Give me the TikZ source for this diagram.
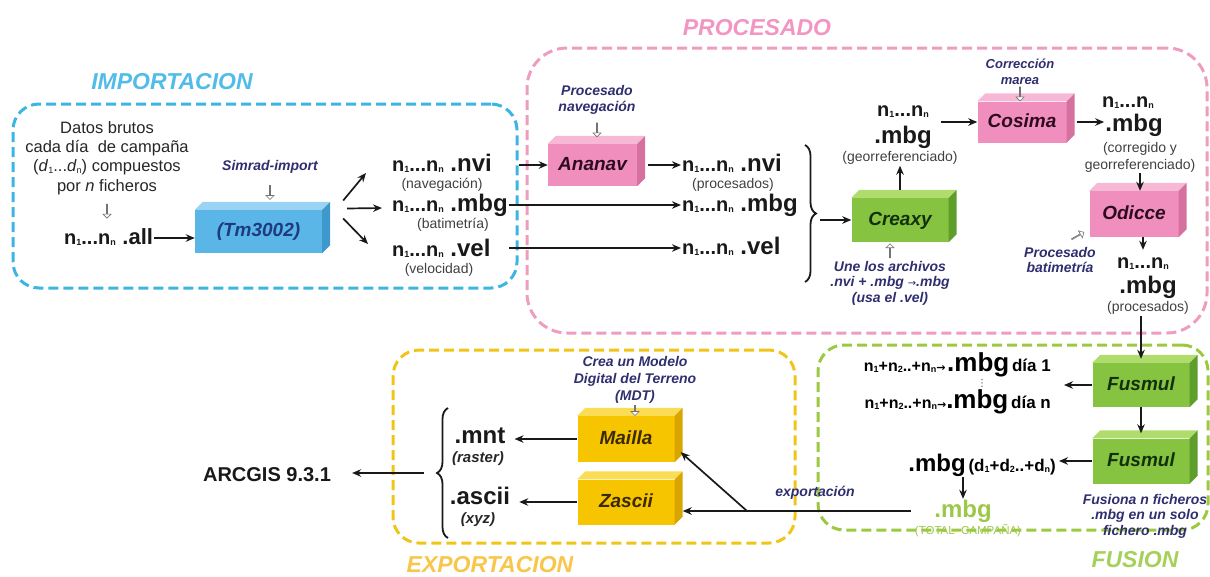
\documentclass[tikz,border=0pt]{standalone}
\usepackage{fontspec}
\setmainfont{Liberation Sans}
\newfontfamily\dejavu{DejaVu Sans}
\usetikzlibrary{arrows.meta,decorations.pathreplacing,shapes.arrows,calc}
\newcommand\myfs[1]{\fontsize{#1}{#1}\selectfont}
\newcommand\mysub[1]{\raisebox{-1.2pt}{\fontsize{9}{9}\selectfont #1}}
\newcommand\nr{{\myfs{20}n\mysub{1}...n\mysub{n}}}
\newcommand\fnr{{\myfs{16}n\mysub{1}+n\mysub{2}..+n\mysub{n}}}
\newcommand\dsum{{\myfs{17}(d\mysub{1}+d\mysub{2}..+d\mysub{n})}}
\definecolor{cyF}{HTML}{5BB6E8}\definecolor{cyT}{HTML}{9AD4F2}\definecolor{cyS}{HTML}{3F98CC}
\definecolor{pkF}{HTML}{F08FBE}\definecolor{pkT}{HTML}{F7B8D6}\definecolor{pkS}{HTML}{D6709F}
\definecolor{grF}{HTML}{86C341}\definecolor{grT}{HTML}{B0DC6E}\definecolor{grS}{HTML}{5E9E2A}
\definecolor{yeF}{HTML}{F6C500}\definecolor{yeT}{HTML}{FBDC55}\definecolor{yeS}{HTML}{D9A500}
\definecolor{cyL}{HTML}{3DB5E3}\definecolor{pkL}{HTML}{EE9CC0}\definecolor{yeL}{HTML}{F0C419}\definecolor{grL}{HTML}{9DC940}
\definecolor{cyTi}{HTML}{52BCE9}\definecolor{pkTi}{HTML}{F295C2}\definecolor{yeTi}{HTML}{F7C64A}\definecolor{grTi}{HTML}{A5D05A}
\definecolor{labc}{HTML}{2F2E6F}\definecolor{tmT}{HTML}{1E3A80}\definecolor{pkX}{HTML}{2E0A20}
\definecolor{grX}{HTML}{12300A}\definecolor{yeX}{HTML}{3A2A00}\definecolor{grText}{HTML}{9CC84A}
\begin{document}
\begin{tikzpicture}[x=1pt,y=-1pt,
  every node/.style={inner sep=1pt},
  arr/.style={-{Stealth[length=9pt,width=7.5pt]}, line width=1.7pt, draw=black!90},
  plain/.style={line width=1.7pt, draw=black!90},
  brc/.style={decorate, decoration={brace, amplitude=11pt}, line width=1.8pt, draw=black!90},
  frame/.style={draw=#1, dash pattern=on 10pt off 5pt, line width=3pt, rounded corners=28pt},
  title/.style={font=\bfseries\itshape\myfs{23}, text=#1},
  ext/.style={font=\bfseries\myfs{24}, text height=17pt, text depth=5pt, text=black!90},
  par/.style={font=\myfs{14}, text=black!75, text height=10pt, text depth=3pt},
  parm/.style={font=\fontsize{14}{17}\selectfont, text=black!75, align=center},
  lab/.style={font=\bfseries\itshape\fontsize{14}{15.5}\selectfont, text=labc, align=center},
  cube/.style={fill=#1F, minimum width=95pt, minimum height=44pt, inner sep=0pt, font=\bfseries\itshape\myfs{19}, text height=14pt, text depth=4pt},
  hol/.style={single arrow, draw=black!55, fill=white, line width=0.6pt, minimum height=14pt, minimum width=8pt, single arrow head extend=2pt, inner sep=0pt, sloped, allow upside down}
]
\useasboundingbox (0,0) rectangle (1210,576);
% frames
\node[frame=cyL, minimum width=504pt, minimum height=184pt, rounded corners=26pt] (gimp) at (265,196) {};
\node[frame=pkL, minimum width=680pt, minimum height=285pt, rounded corners=40pt] (gpro) at (867,190.5) {};
\node[frame=yeL, minimum width=402pt, minimum height=193pt, rounded corners=26pt] (gexp) at (594,446.5) {};
\node[frame=grL, minimum width=390pt, minimum height=185pt, rounded corners=26pt] (gfus) at (1013,437.5) {};
% titles
\node[title=cyTi] (timp) at (172,82) {IMPORTACION};
\node[title=pkTi] (tpro) at (757,28) {PROCESADO};
\node[title=yeTi, anchor=base] (texp) at (490,572) {EXPORTACION};
\node[title=grTi] (tfus) at (1135,560) {FUSION};
% importacion
\node[font=\fontsize{16.5}{19.3}\selectfont, align=center, text=black!85] (datos) at (107,158) {Datos brutos\\cada día\ \ de campaña\\(\textit{d}\mysub{1}...\textit{d}\mysub{n}) compuestos\\por \textit{n} ficheros};
\node[ext, anchor=west] (all) at (63,238) {\nr\ {\myfs{22}.all}};
\node[lab] (simrad) at (270,167) {Simrad-import};
\node[cube=cy, text=tmT, minimum width=127pt, minimum height=43pt] (tm) at (258.5,231.5) {(Tm3002)};
\node[ext, anchor=west] (cnvi) at (391,165) {\nr\ .nvi};
\node[par] (cnvip) at (442,185) {(navegación)};
\node[ext, anchor=west] (cmbg) at (391,205) {\nr\ .mbg};
\node[par] (cmbgp) at (453,225) {(batimetría)};
\node[ext, anchor=west] (cvel) at (391,250) {\nr\ .vel};
\node[par] (cvelp) at (439,270) {(velocidad)};
% procesado
\node[lab] (proc) at (597,100) {Procesado\\navegación};
\node[cube=pk, text=pkX, minimum width=89pt, minimum height=42pt] (ananav) at (592.5,165) {Ananav};
\node[ext, anchor=west] (pnvi) at (681,165) {\nr\ .nvi};
\node[par] (pnvip) at (733,185) {(procesados)};
\node[ext, anchor=west] (pmbg) at (681,205) {\nr\ .mbg};
\node[ext, anchor=west] (pvel) at (681,248) {\nr\ .vel};
\coordinate (rbt) at (805,145);
\coordinate (rbb) at (805,282);
\coordinate (rtip) at (820,220);
\node[cube=gr, text=grX, minimum width=97pt] (creaxy) at (900,220) {Creaxy};
\node[ext] (gn) at (903,110) {\nr};
\node[ext] (gmbg) at (903,137) {.mbg};
\node[par] (gpar) at (900,158) {(georreferenciado)};
\node[lab] (une) at (890,283) {Une los archivos\\.nvi + .mbg {\dejavu\mdseries\myfs{10}→}.mbg\\(usa el .vel)};
\node[lab, font=\bfseries\itshape\fontsize{13}{16}\selectfont] (corr) at (1020,72) {Corrección\\marea};
\node[cube=pk, text=pkX, minimum width=89pt, minimum height=41pt] (cosima) at (1022,122) {Cosima};
\node[ext] (rn) at (1128,101) {\nr};
\node[ext] (rmbg) at (1134,125) {.mbg};
\node[parm] (rpar) at (1140,157) {(corregido y\\georreferenciado)};
\node[cube=pk, text=pkX, minimum width=89pt, minimum height=46pt] (odicce) at (1134,214) {Odicce};
\node[lab] (pbat) at (1060,260) {Procesado\\batimetría};
\node[ext] (bn) at (1143,262) {\nr};
\node[ext] (bmbg) at (1148,287) {.mbg};
\node[par] (bpar) at (1148,308) {(procesados)};
% fusion
\node[cube=gr, text=grX, minimum width=97pt, minimum height=44pt] (fus1) at (1141,385) {Fusmul};
\node[cube=gr, text=grX, minimum width=97pt, minimum height=45pt] (fus2) at (1141,461) {Fusmul};
\node[anchor=east, font=\bfseries, text height=17pt, text depth=5pt] (f1) at (1052,365) {\fnr{\dejavu\myfs{11}→}\,{\myfs{26}.mbg} {\myfs{17}día 1}};
\node[anchor=east, font=\bfseries, text height=17pt, text depth=5pt] (f2) at (1052,402) {\fnr{\dejavu\myfs{11}→}{\myfs{26}.mbg} {\myfs{17}día n}};
\node[font=\dejavu\myfs{10}, text=black!70] (fdots) at (982,383) {⋮};
\node[anchor=east, font=\bfseries, text height=17pt, text depth=5pt] (dsum) at (1057,465) {{\myfs{24}.mbg} \dsum};
\node[ext, text=grText] (tmbg) at (963,511) {.mbg};
\node[font=\myfs{11.5}, text=grText] (ttot) at (968,531) {(TOTAL\ \ CAMPAÑA)};
\node[lab] (fusl) at (1145,516) {Fusiona n ficheros\\.mbg en un solo\\fichero .mbg};
% exportacion
\node[lab, font=\bfseries\itshape\fontsize{14}{17}\selectfont] (mdt) at (635,380) {Crea un Modelo\\Digital del Terreno\\(MDT)};
\node[cube=ye, text=yeX, minimum width=97pt, minimum height=46pt] (mailla) at (626,439) {Mailla};
\node[cube=ye, text=yeX, minimum width=97pt, minimum height=45pt] (zascii) at (626,502) {Zascii};
\node[ext] (mnt) at (480,437) {.mnt};
\node[lab, text=black!85, font=\bfseries\itshape\myfs{15}] (raster) at (478,459) {(raster)};
\node[ext] (ascii) at (480,498) {.ascii};
\node[lab, text=black!85, font=\bfseries\itshape\myfs{15}] (xyz) at (478,520) {(xyz)};
\node[lab] (explab) at (815,493) {exportación};
\node[font=\bfseries\myfs{20}, text=black!90] (arcgis) at (267,475) {ARCGIS 9.3.1};
\coordinate (lbt) at (448,408);
\coordinate (lbb) at (448,538);
\coordinate (ltip) at (424,473);
\coordinate (br) at (747,511);
\coordinate (zr) at ([shift={(8,0)}]zascii.east);
% cube faces
\foreach \n/\col in {tm/cy, ananav/pk, creaxy/gr, cosima/pk, odicce/pk, fus1/gr, fus2/gr, mailla/ye, zascii/ye}{
  \fill[\col T] (\n.north west) -- ++(8,-8) -- ([shift={(8,-8)}]\n.north east) -- (\n.north east) -- cycle;
  \fill[\col S] (\n.north east) -- ++(8,-8) -- ([shift={(8,-8)}]\n.south east) -- (\n.south east) -- cycle;
}
% hollow arrows
\path (datos.south) -- (datos.south |- all.north) node[hol, pos=.5] {};
\path (simrad.south) -- (simrad.south |- tm.north) node[hol, pos=.5] {};
\path (proc.south) -- (proc.south |- ananav.north) node[hol, pos=.5] {};
\path (corr.south) -- (corr.south |- cosima.north) node[hol, pos=.5] {};
\path (une.north) -- (une.north |- creaxy.south) node[hol, pos=.5] {};
\path (pbat.north) -- ([shift={(0,-8)}]odicce.south west) node[hol, pos=.6] {};
\path (mdt.south) -- (mdt.south |- mailla.north) node[hol, pos=.5, minimum height=10pt] {};
% connectors
\draw[arr] (all.east) -- (all.east -| tm.west);
\draw[arr] ([shift={(21,-31)}]tm.east) -- ([shift={(-25,8)}]cnvi.west);
\draw[arr] ([shift={(25,-23)}]tm.east) -- ([shift={(-9,3)}]cmbg.west);
\draw[arr] ([shift={(21,-13)}]tm.east) -- ([shift={(-23,-6)}]cvel.west);
\draw[arr] (cnvi.east -| gimp.east) -- (ananav.west);
\draw[arr] (cmbg.east) -- (pmbg.west);
\draw[arr] (pvel.west -| cmbg.east) -- (pvel.west);
\draw[arr, shorten <=11pt] (ananav.east) -- (pnvi.west);
\draw[brc] (rbt) -- (rbb);
\draw[arr] (rtip) -- (creaxy.west);
\draw[arr] ([shift={(0,-8)}]creaxy.north) -- (gpar.south);
\draw[arr, shorten <=8pt] (gmbg.east |- cosima.west) -- (cosima.west);
\draw[arr, shorten <=10pt] (cosima.east) -- (cosima.east -| rmbg.west);
\draw[arr] (rpar.south) -- (rpar.south |- odicce.north);
\draw[arr] (odicce.south -| bn) -- (bn.north);
\draw[arr] (bpar.south -| fus1.north) -- ([shift={(0,-4)}]fus1.north);
\draw[arr] (fus1.south) -- ([shift={(0,-5)}]fus2.north);
\draw[arr, shorten >=12pt] (fus1.west) -- (fus1.west -| f1.east);
\draw[arr, shorten >=2pt] (fus2.west) -- (fus2.west -| dsum.east);
\draw[arr] (dsum.south -| tmbg.north) -- (tmbg.north);
\draw[plain, shorten <=22pt] (tmbg.west) -- (br);
\draw[arr] (br) -- (br -| zr);
\draw[arr] (br) -- ([shift={(6,-10)}]mailla.south east);
\draw[arr, shorten >=8pt] (mailla.west) -- (mailla.west -| mnt.east);
\draw[arr, shorten >=8pt] (zascii.west) -- (zascii.west -| ascii.east);
\draw[brc] (lbb) -- (lbt);
\draw[arr, shorten >=20pt] (ltip) -- (ltip -| arcgis.east);
\end{tikzpicture}
\end{document}
